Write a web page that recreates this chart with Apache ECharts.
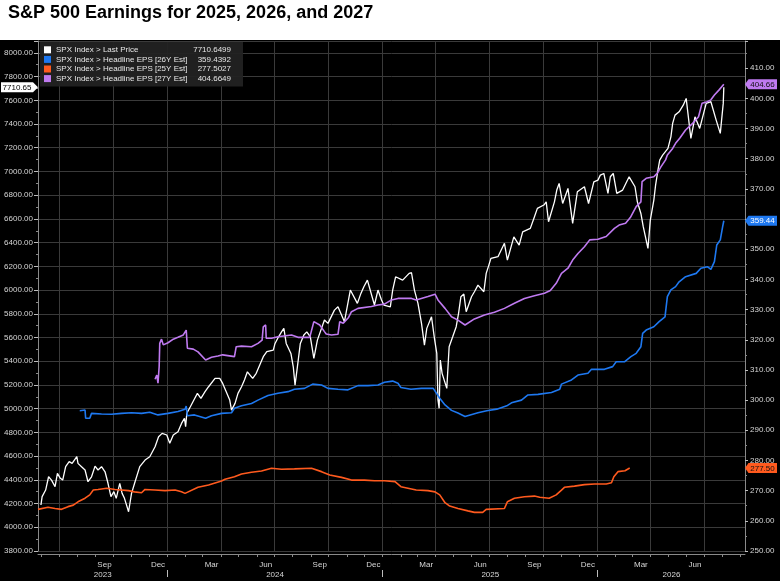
<!DOCTYPE html>
<html><head><meta charset="utf-8">
<script src="https://cdn.jsdelivr.net/npm/echarts@6/dist/echarts.min.js"></script>
<style>html,body{margin:0;padding:0;background:#fff}#c{width:780px;height:581px}</style>
</head><body><div id="c"></div>
<script>
const FONT = '"Liberation Sans",Arial,sans-serif';
const FS = 8;
const startDate = '2023-05-26';
const endDate = '2026-09-09';
const seriesNames = ['SPX Index > Last Price','SPX Index > Headline EPS [26Y Est]','SPX Index > Headline EPS [25Y Est]','SPX Index > Headline EPS [27Y Est]'];
const legendValues = ['7710.6499','359.4392','277.5027','404.6649'];
const seriesColors = ['#ffffff','#1e78f0','#ff5a1e','#bf7af0'];
const monthNames = ['Jan','Feb','Mar','Apr','May','Jun','Jul','Aug','Sep','Oct','Nov','Dec'];

const spxLast = [['2023-05-31',4188],['2023-06-02',4258],['2023-06-08',4314],['2023-06-13',4426],['2023-06-18',4398],['2023-06-24',4342],['2023-06-28',4455],['2023-07-03',4413],['2023-07-07',4398],['2023-07-12',4511],['2023-07-18',4553],['2023-07-23',4539],['2023-07-31',4595],['2023-08-02',4539],['2023-08-08',4511],['2023-08-14',4483],['2023-08-19',4384],['2023-08-25',4426],['2023-08-31',4516],['2023-09-05',4483],['2023-09-11',4511],['2023-09-17',4468],['2023-09-22',4371],['2023-09-27',4258],['2023-10-02',4300],['2023-10-06',4244],['2023-10-12',4371],['2023-10-16',4286],['2023-10-20',4244],['2023-10-27',4131],['2023-11-01',4286],['2023-11-07',4384],['2023-11-15',4511],['2023-11-24',4567],['2023-12-02',4595],['2023-12-11',4679],['2023-12-17',4763],['2023-12-23',4792],['2023-12-31',4778],['2024-01-05',4708],['2024-01-11',4778],['2024-01-19',4806],['2024-01-25',4876],['2024-01-30',4919],['2024-02-01',4848],['2024-02-03',4961],['2024-02-09',5016],['2024-02-15',5073],['2024-02-21',5129],['2024-02-27',5087],['2024-03-05',5143],['2024-03-11',5185],['2024-03-22',5256],['2024-03-30',5256],['2024-04-04',5213],['2024-04-16',5073],['2024-04-19',4988],['2024-04-25',5045],['2024-04-30',5129],['2024-05-06',5185],['2024-05-11',5241],['2024-05-16',5311],['2024-05-25',5256],['2024-05-31',5298],['2024-06-06',5368],['2024-06-12',5438],['2024-06-18',5480],['2024-06-29',5494],['2024-07-02',5550],['2024-07-08',5606],['2024-07-13',5648],['2024-07-17',5677],['2024-07-21',5550],['2024-07-29',5466],['2024-08-02',5353],['2024-08-05',5199],['2024-08-09',5353],['2024-08-14',5550],['2024-08-20',5621],['2024-08-25',5648],['2024-08-31',5606],['2024-09-06',5424],['2024-09-12',5578],['2024-09-19',5677],['2024-09-24',5747],['2024-09-30',5719],['2024-10-11',5831],['2024-10-17',5859],['2024-10-28',5733],['2024-11-07',6000],['2024-11-19',5888],['2024-11-25',5972],['2024-11-30',6028],['2024-12-06',6084],['2024-12-18',5874],['2024-12-24',6000],['2024-12-30',5916],['2025-01-03',5874],['2025-01-14',5859],['2025-01-18',6000],['2025-01-23',6112],['2025-02-04',6084],['2025-02-15',6141],['2025-02-19',6146],['2025-02-24',6000],['2025-03-02',5888],['2025-03-08',5719],['2025-03-13',5536],['2025-03-17',5677],['2025-03-25',5775],['2025-03-30',5593],['2025-04-03',5466],['2025-04-05',5073],['2025-04-07',5003],['2025-04-09',5410],['2025-04-12',5298],['2025-04-20',5171],['2025-04-24',5522],['2025-04-30',5606],['2025-05-06',5691],['2025-05-10',5804],['2025-05-14',5944],['2025-05-19',5966],['2025-05-23',5817],['2025-06-01',5944],['2025-06-06',5986],['2025-06-12',6042],['2025-06-22',5986],['2025-06-26',6141],['2025-06-30',6202],['2025-07-04',6267],['2025-07-16',6281],['2025-07-27',6394],['2025-08-01',6253],['2025-08-12',6449],['2025-08-21',6379],['2025-08-27',6491],['2025-09-09',6520],['2025-09-15',6604],['2025-09-21',6689],['2025-10-02',6717],['2025-10-06',6744],['2025-10-10',6576],['2025-10-20',6744],['2025-10-24',6843],['2025-10-28',6899],['2025-11-03',6730],['2025-11-12',6857],['2025-11-20',6562],['2025-11-28',6829],['2025-12-10',6871],['2025-12-17',6730],['2025-12-26',6913],['2026-01-02',6927],['2026-01-06',6969],['2026-01-12',6983],['2026-01-19',6815],['2026-01-23',6955],['2026-01-28',6983],['2026-02-03',6815],['2026-02-13',6843],['2026-02-24',6955],['2026-03-06',6871],['2026-03-10',6744],['2026-03-16',6646],['2026-03-20',6534],['2026-03-28',6351],['2026-04-01',6590],['2026-04-07',6759],['2026-04-10',6885],['2026-04-14',7011],['2026-04-17',7096],['2026-04-22',7138],['2026-05-01',7194],['2026-05-06',7292],['2026-05-09',7405],['2026-05-13',7475],['2026-05-20',7503],['2026-05-27',7559],['2026-06-01',7616],['2026-06-09',7278],['2026-06-16',7461],['2026-06-24',7363],['2026-07-05',7574],['2026-07-13',7588],['2026-07-22',7433],['2026-07-29',7321],['2026-08-03',7574],['2026-08-04',7710.6499]];

const eps26 = [['2023-08-05',296.5],['2023-08-14',296.7],['2023-08-15',294.0],['2023-08-22',294.0],['2023-08-25',295.6],['2023-09-11',295.4],['2023-09-28',295.3],['2023-10-15',295.6],['2023-11-01',295.8],['2023-11-18',295.6],['2023-12-02',296.0],['2023-12-16',295.1],['2024-01-02',295.6],['2024-01-19',296.2],['2024-01-31',297.0],['2024-02-02',298.0],['2024-02-04',294.8],['2024-02-16',295.1],['2024-03-06',294.0],['2024-03-16',294.8],['2024-04-02',295.6],['2024-04-19',295.8],['2024-04-24',297.3],['2024-05-06',298.1],['2024-05-23',298.9],['2024-06-03',300.0],['2024-06-20',301.5],['2024-07-07',302.3],['2024-07-24',302.8],['2024-08-04',303.6],['2024-08-21',303.9],['2024-09-04',305.3],['2024-09-19',305.0],['2024-09-30',303.9],['2024-10-17',303.6],['2024-11-03',303.4],['2024-11-20',304.8],['2024-12-07',304.8],['2024-12-24',305.0],['2025-01-04',305.9],['2025-01-18',306.3],['2025-01-27',305.6],['2025-02-01',304.2],['2025-02-18',303.6],['2025-03-08',303.9],['2025-03-28',303.9],['2025-04-08',300.6],['2025-04-17',298.4],['2025-04-28',296.6],['2025-05-09',295.7],['2025-05-21',294.6],['2025-06-12',295.8],['2025-06-27',296.5],['2025-07-14',297.0],['2025-07-31',298.1],['2025-08-08',299.1],['2025-08-25',300.0],['2025-09-05',301.7],['2025-09-22',301.9],['2025-10-15',302.5],['2025-10-29',303.6],['2025-11-01',305.3],['2025-11-18',306.7],['2025-11-29',308.3],['2025-12-16',308.9],['2025-12-22',310.2],['2026-01-13',310.2],['2026-01-27',311.1],['2026-02-02',312.7],['2026-02-16',312.7],['2026-02-27',314.4],['2026-03-08',315.5],['2026-03-16',317.7],['2026-03-19',322.1],['2026-03-25',323.2],['2026-04-07',324.3],['2026-04-16',326.0],['2026-04-26',327.6],['2026-04-30',334.3],['2026-05-06',336.5],['2026-05-14',337.6],['2026-05-20',339.2],['2026-05-31',340.9],['2026-06-18',342.0],['2026-06-26',343.7],['2026-07-07',344.2],['2026-07-13',343.3],['2026-07-19',345.9],['2026-07-23',351.4],['2026-07-29',353.1],['2026-08-02',357.5],['2026-08-04',359.4392]];

const eps25 = [['2023-05-26',263.8],['2023-06-12',264.5],['2023-06-24',264.1],['2023-07-05',263.8],['2023-07-16',264.7],['2023-07-25',265.2],['2023-08-02',266.3],['2023-08-14',267.5],['2023-08-22',268.6],['2023-08-28',270.2],['2023-09-05',270.4],['2023-09-20',270.8],['2023-10-04',270.4],['2023-10-27',270.0],['2023-11-06',269.6],['2023-11-18',269.3],['2023-11-24',270.4],['2023-12-11',270.2],['2023-12-28',270.0],['2024-01-14',270.2],['2024-01-25',269.6],['2024-01-31',269.1],['2024-02-22',271.1],['2024-03-11',271.9],['2024-04-02',273.2],['2024-04-08',273.8],['2024-04-24',274.6],['2024-05-06',275.5],['2024-05-23',276.1],['2024-06-09',276.5],['2024-06-26',277.4],['2024-07-13',277.1],['2024-08-04',277.2],['2024-09-02',277.4],['2024-09-19',276.3],['2024-10-03',275.2],['2024-10-23',274.4],['2024-11-09',273.5],['2024-12-01',273.5],['2024-12-18',273.3],['2025-01-04',273.3],['2025-01-22',273.0],['2025-02-01',271.3],['2025-02-13',270.8],['2025-02-27',270.2],['2025-03-19',270.0],['2025-03-31',269.6],['2025-04-08',268.6],['2025-04-17',266.0],['2025-04-25',264.9],['2025-05-09',264.1],['2025-05-26',263.3],['2025-06-06',262.8],['2025-06-20',262.8],['2025-06-26',263.8],['2025-07-27',264.1],['2025-08-01',266.3],['2025-08-13',267.5],['2025-08-30',268.0],['2025-09-16',268.2],['2025-09-25',267.8],['2025-10-11',267.5],['2025-10-23',268.6],['2025-11-01',270.2],['2025-11-06',271.1],['2025-11-23',271.5],['2025-12-10',272.0],['2025-12-27',272.2],['2026-01-16',272.2],['2026-01-25',272.6],['2026-01-29',274.6],['2026-02-05',276.3],['2026-02-17',276.6],['2026-02-25',277.5027]];

const eps27 = [['2023-12-11',306.9],['2023-12-14',308.3],['2023-12-16',305.6],['2023-12-18',311.1],['2023-12-19',318.8],['2023-12-22',320.2],['2023-12-25',318.3],['2024-01-02',319.0],['2024-01-11',320.2],['2024-01-19',320.8],['2024-01-28',321.6],['2024-02-02',323.2],['2024-02-04',317.2],['2024-02-14',316.9],['2024-02-22',316.0],['2024-03-06',313.3],['2024-03-16',314.2],['2024-03-27',314.6],['2024-04-04',315.0],['2024-04-24',314.4],['2024-04-27',317.7],['2024-05-06',317.9],['2024-05-23',317.7],['2024-06-03',318.8],['2024-06-10',319.9],['2024-06-12',324.3],['2024-06-16',324.9],['2024-06-17',320.5],['2024-06-26',320.5],['2024-07-07',321.0],['2024-07-30',321.6],['2024-08-10',320.8],['2024-08-30',320.8],['2024-09-06',326.0],['2024-09-16',324.9],['2024-09-24',322.7],['2024-09-27',321.9],['2024-10-06',321.6],['2024-10-17',321.8],['2024-10-20',326.0],['2024-10-26',325.5],['2024-11-04',327.4],['2024-11-09',329.3],['2024-11-20',330.4],['2024-12-13',331.0],['2024-12-24',331.5],['2025-01-04',331.8],['2025-01-16',333.2],['2025-01-27',333.7],['2025-02-19',333.7],['2025-02-27',333.2],['2025-03-19',334.3],['2025-03-31',335.1],['2025-04-05',333.2],['2025-04-17',330.4],['2025-04-28',327.6],['2025-05-09',326.5],['2025-05-21',324.9],['2025-06-06',326.9],['2025-06-23',328.2],['2025-07-10',329.1],['2025-07-27',330.4],['2025-08-13',332.1],['2025-08-30',333.7],['2025-09-16',334.6],['2025-10-03',335.4],['2025-10-13',336.3],['2025-10-23',338.7],['2025-11-01',342.0],['2025-11-12',343.7],['2025-11-20',346.4],['2025-11-29',348.6],['2025-12-10',350.8],['2025-12-19',353.1],['2026-01-02',353.3],['2026-01-16',354.2],['2026-01-30',356.9],['2026-02-07',358.0],['2026-02-18',358.6],['2026-02-26',360.5],['2026-03-08',364.1],['2026-03-16',365.7],['2026-03-18',372.4],['2026-03-25',373.5],['2026-04-07',374.0],['2026-04-13',375.2],['2026-04-19',377.3],['2026-04-27',379.6],['2026-04-30',381.2],['2026-05-09',383.4],['2026-05-14',385.1],['2026-05-21',386.8],['2026-05-31',389.5],['2026-06-12',391.7],['2026-06-22',393.9],['2026-06-28',398.4],['2026-07-07',398.9],['2026-07-13',399.5],['2026-07-19',401.1],['2026-07-27',402.8],['2026-08-04',404.6649]];

// daily category axis
const DAY = 86400000;
const t0 = Date.parse(startDate + 'T00:00:00Z'), t1 = Date.parse(endDate + 'T00:00:00Z');
const categories = [];
for (let t = t0; t <= t1; t += DAY) categories.push(new Date(t).toISOString().slice(0, 10));
const idxOf = d => Math.round((Date.parse(d + 'T00:00:00Z') - t0) / DAY);
const toData = arr => arr.map(([d, v]) => [idxOf(d), v]);
const lastIdx = categories.length - 1;

// year label positions: middle of each year's visible span
const yearMid = new Set();
const years = [...new Set(categories.map(c => c.slice(0, 4)))];
years.forEach(y => {
  const first = categories.findIndex(c => c.startsWith(y));
  let last = categories.length - 1;
  const nextStart = categories.findIndex(c => c.startsWith(String(+y + 1)));
  if (nextStart > 0) last = nextStart;
  yearMid.add(Math.round((first + last) / 2));
});

const isMonthStart = v => v.endsWith('-01');
const isQuarterStart = v => /-(01|04|07|10)-01$/.test(v);
const isMonthLabel = (i, v) => i > 40 && i < lastIdx - 40 && /-(03|06|09|12)-16$/.test(v);

const LBL = '#d6d6d6', AX = '#8a8a8a', GRID = '#3a3a3a';
const valueMap = {};
seriesNames.forEach((n, i) => valueMap[n] = legendValues[i]);

function rightFlag(val, color, textColor) {
  return {
    symbol: 'path://M0,5L3.5,0L32,0L32,10L3.5,10Z',
    symbolSize: [32, 10], symbolOffset: [16, 0], silent: true,
    itemStyle: { color: color },
    label: { show: true, position: 'inside', offset: [1.5, 0.5], color: textColor, fontSize: FS, fontFamily: FONT, formatter: p => p.value.toFixed(2) },
    data: [{ coord: [lastIdx, val], value: val }]
  };
}

const lastSpx = spxLast[spxLast.length - 1][1];
const last26 = eps26[eps26.length - 1][1];
const last25 = eps25[eps25.length - 1][1];
const last27 = eps27[eps27.length - 1][1];

const chart = echarts.init(document.getElementById('c'), null, { renderer: 'canvas' });
chart.setOption({
  backgroundColor: '#000',
  animation: false,
  title: { text: 'S&P 500 Earnings for 2025, 2026, and 2027', left: 8, top: 4, padding: 0, textStyle: { fontFamily: '"Liberation Sans",Arial,sans-serif', fontWeight: 'bold', fontSize: 18, color: '#000' } },
  graphic: [{ type: 'rect', shape: { x: 0, y: 0, width: 780, height: 40 }, style: { fill: '#fff' }, z: -10, silent: true }],
  legend: {
    orient: 'vertical', left: 40, top: 42, padding: [3, 12, 3, 4],
    backgroundColor: 'rgba(34,34,34,0.95)', itemWidth: 7, itemHeight: 7, itemGap: 0, icon: 'rect',
    data: seriesNames,
    formatter: n => '{n|' + n + '}{v|' + valueMap[n] + '}',
    textStyle: { color: '#e6e6e6', fontFamily: FONT, fontSize: FS, lineHeight: 9.6,
      rich: { n: { width: 133, color: '#e6e6e6', fontFamily: FONT, fontSize: FS, lineHeight: 9.6 },
              v: { width: 42, align: 'right', color: '#e6e6e6', fontFamily: FONT, fontSize: FS, lineHeight: 9.6 } } }
  },
  grid: { left: 38, right: 35, top: 41, bottom: 30, outerBoundsMode: 'none' },
  xAxis: [
    { type: 'category', data: categories, boundaryGap: false, offset: 3,
      axisLine: { lineStyle: { color: AX } },
      axisTick: { interval: (i, v) => isMonthStart(v), length: 3, lineStyle: { color: AX } },
      axisLabel: { interval: isMonthLabel, formatter: v => monthNames[+v.slice(5, 7) - 1], color: LBL, fontSize: FS, fontFamily: FONT, margin: 6, lineHeight: 9 },
      splitLine: { show: true, interval: (i, v) => isQuarterStart(v), lineStyle: { color: GRID, width: 1 } } },
    { type: 'category', data: categories, boundaryGap: false, position: 'bottom', offset: 19,
      axisLine: { show: false },
      axisTick: { show: true, interval: (i, v) => v.endsWith('-01-01'), length: 7, lineStyle: { color: '#bdbdbd' } },
      axisLabel: { interval: (i) => yearMid.has(i), formatter: v => v.slice(0, 4), color: LBL, fontSize: FS, fontFamily: FONT, margin: 0, lineHeight: 9 },
      splitLine: { show: false } }
  ],
  yAxis: [
    { type: 'value', position: 'left', min: 3800, max: 8100, interval: 200,
      axisLine: { show: true, lineStyle: { color: AX } },
      axisTick: { show: true, length: 4, lineStyle: { color: '#bdbdbd' } },
      minorTick: { show: true, splitNumber: 2, length: 2, lineStyle: { color: AX } },
      axisLabel: { formatter: v => v.toFixed(2), color: LBL, fontSize: FS, fontFamily: FONT, margin: 5, showMaxLabel: false },
      splitLine: { show: true, lineStyle: { color: GRID, width: 1 } } },
    { type: 'value', position: 'right', min: 250, max: 419, interval: 10,
      axisLine: { show: true, lineStyle: { color: AX } },
      axisTick: { show: true, length: 3, lineStyle: { color: '#bdbdbd' } },
      minorTick: { show: true, splitNumber: 2, length: 2, lineStyle: { color: AX } },
      axisLabel: { formatter: v => v.toFixed(2), color: LBL, fontSize: FS, fontFamily: FONT, margin: 5, showMaxLabel: false },
      splitLine: { show: false } }
  ],
  series: [
    { name: seriesNames[0], type: 'line', xAxisIndex: 0, yAxisIndex: 0, data: toData(spxLast), symbol: 'none', color: seriesColors[0], lineStyle: { width: 1.3, color: seriesColors[0] },
      markPoint: { symbol: 'path://M0,0L32,0L37,5L32,10L0,10Z', symbolSize: [37, 10], symbolOffset: [-18.5, 0], silent: true,
        itemStyle: { color: '#fff' },
        label: { show: true, position: 'inside', offset: [-2.5, 0.5], color: '#000', fontSize: FS, fontFamily: FONT, formatter: p => p.value.toFixed(2) },
        data: [{ coord: [0, lastSpx], value: lastSpx }] } },
    { name: seriesNames[1], type: 'line', xAxisIndex: 0, yAxisIndex: 1, data: toData(eps26), symbol: 'none', color: seriesColors[1], lineStyle: { width: 1.6, color: seriesColors[1] },
      markPoint: rightFlag(last26, seriesColors[1], '#fff') },
    { name: seriesNames[2], type: 'line', xAxisIndex: 0, yAxisIndex: 1, data: toData(eps25), symbol: 'none', color: seriesColors[2], lineStyle: { width: 1.6, color: seriesColors[2] },
      markPoint: rightFlag(last25, seriesColors[2], '#111') },
    { name: seriesNames[3], type: 'line', xAxisIndex: 0, yAxisIndex: 1, data: toData(eps27), symbol: 'none', color: seriesColors[3], lineStyle: { width: 1.6, color: seriesColors[3] },
      markPoint: rightFlag(last27, seriesColors[3], '#111') }
  ]
});
</script></body></html>
